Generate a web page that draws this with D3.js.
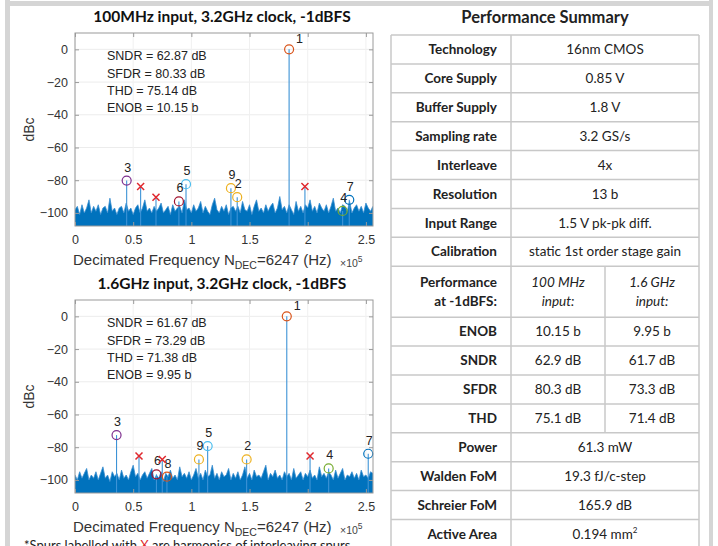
<!DOCTYPE html>
<html>
<head>
<meta charset="utf-8">
<script src="https://cdn.jsdelivr.net/npm/d3@7"></script>
<style>
  body { margin: 0; background: #fff; }
  .mat text { font-family: "Liberation Sans", Arial, sans-serif; }
  .tbl text { font-family: Lato, "Open Sans", sans-serif; fill: #222; }
</style>
</head>
<body>
<svg id="chart" width="718" height="546"></svg>
<script>
var svg = d3.select("#chart");

// ---- data ----
var titles = ["100MHz input, 3.2GHz clock, -1dBFS", "1.6GHz input, 3.2GHz clock, -1dBFS"];
var statsTop = ["SNDR = 62.87 dB", "SFDR = 80.33 dB", "THD = 75.14 dB", "ENOB = 10.15 b"];
var statsBot = ["SNDR = 61.67 dB", "SFDR = 73.29 dB", "THD = 71.38 dB", "ENOB = 9.95 b"];
var yTicks = [0, -20, -40, -60, -80, -100];
var xTicks = [0, 0.5, 1, 1.5, 2, 2.5];
var fMax = 2.561;      // x1e5 Hz, Nyquist of decimated spectrum
var noiseStep = 0.02;  // bin spacing of the noise arrays (x1e5 Hz)

// harmonics (number, frequency x1e5, level dBc)
var harmNumTop = [1, 2, 3, 4, 5, 6, 7, 9];
var harmFreqTop = [1.84, 1.394, 0.444, 2.30, 0.954, 0.893, 2.357, 1.34];
var harmDbTop = [0, -90.4, -80.2, -98.8, -82.4, -93, -92, -84.9];
var xSpurFreqTop = [0.564, 0.696, 1.976];
var xSpurDbTop = [-83.9, -90.4, -83.9];

var harmNumBot = [1, 2, 3, 4, 5, 6, 7, 8, 9];
var harmFreqBot = [1.82, 1.475, 0.357, 2.18, 1.14, 0.70, 2.52, 0.79, 1.065];
var harmDbBot = [0, -87.5, -72.6, -93, -79.3, -96.6, -84, -98, -87.5];
var xSpurFreqBot = [0.55, 0.75, 2.02];
var xSpurDbBot = [-85.4, -87.5, -85.4];

var noiseTop = [
  -98,-96,-101,-95,-100,-97,-92,-100,-96,-99,
  -95,-101,-97,-96,-100,-91,-99,-97,-101,-97,
  -96,-100,-94,-99,-97,-101,-97,-95,-100,-97,
  -92,-99,-97,-100,-96,-99,-97,-94,-100,-98,
  -96,-101,-95,-99,-97,-96,-100,-92,-98,-97,
  -100,-95,-99,-97,-93,-100,-96,-99,-101,-95,
  -91,-98,-100,-96,-99,-95,-101,-97,-96,-99,
  -96,-100,-93,-98,-99,-95,-101,-96,-92,-99,
  -97,-100,-95,-99,-96,-94,-100,-97,-90,-98,
  -96,-100,-95,-98,-101,-93,-99,-96,-100,-95,
  -97,-92,-99,-96,-100,-94,-97,-99,-95,-100,
  -96,-91,-99,-97,-100,-95,-96,-99,-93,-100,
  -97,-95,-99,-96,-100,-94,-97,-99,-96
];
var noiseBot = [
  -97,-100,-95,-99,-96,-93,-100,-97,-99,-95,
  -100,-96,-92,-99,-97,-101,-95,-98,-96,-100,
  -94,-99,-97,-100,-95,-91,-98,-96,-100,-97,
  -95,-99,-96,-93,-100,-97,-99,-95,-101,-96,
  -98,-94,-99,-97,-100,-92,-98,-96,-99,-95,
  -100,-97,-93,-99,-96,-100,-94,-98,-97,-91,
  -99,-96,-100,-95,-98,-97,-93,-100,-96,-99,
  -95,-100,-97,-92,-99,-96,-100,-94,-98,-97,
  -99,-95,-91,-100,-96,-98,-94,-99,-97,-100,
  -95,-98,-96,-100,-93,-99,-97,-95,-100,-96,
  -98,-94,-99,-97,-100,-92,-98,-96,-99,-95,
  -97,-100,-94,-99,-96,-93,-100,-97,-98,-95,
  -99,-96,-100,-94,-98,-97,-99,-95,-96
];

// table
var tableLabels = ["Technology", "Core Supply", "Buffer Supply", "Sampling rate", "Interleave",
  "Resolution", "Input Range", "Calibration", "Performance|at -1dBFS:", "ENOB", "SNDR", "SFDR",
  "THD", "Power", "Walden FoM", "Schreier FoM", "Active Area"];
var tableValues = [["16nm CMOS"], ["0.85 V"], ["1.8 V"], ["3.2 GS/s"], ["4x"], ["13 b"],
  ["1.5 V pk-pk diff."], ["static 1st order stage gain"], ["100 MHz|input:", "1.6 GHz|input:"],
  ["10.15 b", "9.95 b"], ["62.9 dB", "61.7 dB"], ["80.3 dB", "73.3 dB"], ["75.1 dB", "71.4 dB"],
  ["61.3 mW"], ["19.3 fJ/c-step"], ["165.9 dB"], ["0.194 mm^2"]];

// matlab color order, shifted so harmonic 1 is orange
var harmColor = d3.scaleOrdinal()
  .domain([1, 2, 3, 4, 5, 6, 7, 8, 9])
  .range(["#D95319", "#EDB120", "#7E2F8E", "#77AC30", "#4DBEEE", "#A2142F", "#0072BD", "#D95319", "#EDB120"]);

// ---- frame ----
svg.append("rect").attr("x", 5).attr("y", 1).attr("width", 708).attr("height", 5).attr("fill", "#d5d5d5");
svg.append("rect").attr("x", 5).attr("y", 0).attr("width", 5).attr("height", 546).attr("fill", "#d5d5d5");
svg.append("rect").attr("x", 709).attr("y", 0).attr("width", 4).attr("height", 546).attr("fill", "#d5d5d5");

// ---- spectra ----
function drawPanel(p) {
  var x = d3.scaleLinear().domain([0, fMax]).range([75, 373]);
  var y = d3.scaleLinear().domain([-108, 10]).range([p.bottom, p.bottom - 193]);
  var g = svg.append("g").attr("class", "mat");
  var x0 = x.range()[0], x1 = x.range()[1], yb = y.range()[0], yt = y.range()[1];

  g.append("text").attr("x", (x0 + x1) / 2 - 2).attr("y", yt - 11)
    .attr("text-anchor", "middle")
    .style("font-family", "Lato, sans-serif").style("font-weight", "bold").style("font-size", "15.5px")
    .attr("fill", "#111").text(p.title);

  // grid
  g.selectAll(".hg").data(yTicks).enter().append("line")
    .attr("x1", x0).attr("x2", x1).attr("y1", d => y(d)).attr("y2", d => y(d))
    .attr("stroke", "#ececec");
  g.selectAll(".vg").data(xTicks).enter().append("line")
    .attr("x1", d => x(d)).attr("x2", d => x(d)).attr("y1", yt).attr("y2", yb)
    .attr("stroke", "#f0f0f0");

  var clipId = "clip" + p.bottom;
  g.append("clipPath").attr("id", clipId).append("rect")
    .attr("x", x0).attr("y", yt).attr("width", x1 - x0).attr("height", yb - yt);
  var pg = g.append("g").attr("clip-path", "url(#" + clipId + ")");

  // noise floor
  var area = d3.area().x((d, i) => x(i * noiseStep)).y0(yb).y1(d => y(d));
  pg.append("path").datum(p.noise).attr("d", area).attr("fill", "#0072BD");
  pg.append("path").datum(p.noise)
    .attr("d", d3.line().x((d, i) => x(i * noiseStep)).y(d => y(d)))
    .attr("fill", "none").attr("stroke", "#3a8ed0").attr("stroke-width", 0.8);

  // stems for spurs
  var stems = p.harmFreq.map((f, i) => ({f: f, db: p.harmDb[i]}))
    .concat(p.xFreq.map((f, i) => ({f: f, db: p.xDb[i]})));
  pg.selectAll(".stem").data(stems).enter().append("line")
    .attr("x1", d => x(d.f)).attr("x2", d => x(d.f))
    .attr("y1", yb).attr("y2", d => y(d.db))
    .attr("stroke", "#3d93d6").attr("stroke-width", 1.1);

  // harmonic markers
  var harms = p.harmNum.map((k, i) => ({k: k, f: p.harmFreq[i], db: p.harmDb[i]}));
  g.selectAll(".hm").data(harms).enter().append("circle")
    .attr("cx", d => x(d.f)).attr("cy", d => y(d.db)).attr("r", 4.5)
    .attr("fill", "none").attr("stroke", d => harmColor(d.k)).attr("stroke-width", 1.2);
  g.selectAll(".hl").data(harms).enter().append("text")
    .attr("x", d => x(d.f) + (d.k === 1 ? 7 : 1))
    .attr("y", d => y(d.db) - (d.k === 1 ? 6 : 9))
    .attr("text-anchor", d => d.k === 1 ? "start" : "middle")
    .style("font-size", "12.5px").attr("fill", "#222").text(d => d.k);

  // red X spurs
  var xs = p.xFreq.map((f, i) => ({f: f, db: p.xDb[i]}));
  g.selectAll(".xm").data(xs).enter().append("path")
    .attr("transform", d => `translate(${x(d.f)},${y(d.db)})`)
    .attr("d", "M-3.5,-3.5L3.5,3.5M-3.5,3.5L3.5,-3.5")
    .attr("stroke", "#e0282e").attr("stroke-width", 1.5);

  // box
  g.append("rect").attr("x", x0).attr("y", yt).attr("width", x1 - x0).attr("height", yb - yt)
    .attr("fill", "none").attr("stroke", "#9a9a9a").attr("stroke-width", 1);

  var ya = g.append("g").attr("transform", `translate(${x0},0)`)
    .call(d3.axisLeft(y).tickValues(yTicks).tickSizeInner(-4).tickSizeOuter(0).tickPadding(7));
  var xa = g.append("g").attr("transform", `translate(0,${yb})`)
    .call(d3.axisBottom(x).tickValues(xTicks).tickFormat(d3.format("")).tickSizeInner(-4).tickSizeOuter(0).tickPadding(9));
  var ra = g.append("g").attr("transform", `translate(${x1},0)`)
    .call(d3.axisRight(y).tickValues(yTicks).tickFormat("").tickSizeInner(-4).tickSizeOuter(0));
  var ta = g.append("g").attr("transform", `translate(0,${yt})`)
    .call(d3.axisTop(x).tickValues(xTicks).tickFormat("").tickSizeInner(-4).tickSizeOuter(0));
  [ya, xa, ra, ta].forEach(a => {
    a.select(".domain").remove();
    a.selectAll("line").attr("stroke", "#9a9a9a");
    a.selectAll("text").style("font-family", "Liberation Sans, Arial, sans-serif")
      .style("font-size", "12.5px").attr("fill", "#333");
  });

  // stats text
  g.selectAll(".st").data(p.stats).enter().append("text")
    .attr("x", 107).attr("y", (d, i) => y(0) + 11 + i * 17.3)
    .style("font-size", "12.5px").attr("fill", "#222").text(d => d);

  // axis labels
  g.append("text").attr("transform", `translate(34,${(yt + yb) / 2}) rotate(-90)`)
    .attr("text-anchor", "middle").style("font-size", "14px").attr("fill", "#333").text("dBc");

  var xl = g.append("text").attr("x", 73).attr("y", yb + 39)
    .style("font-size", "15px").attr("fill", "#333");
  xl.append("tspan").text("Decimated Frequency N");
  xl.append("tspan").attr("dy", 4).style("font-size", "10.5px").text("DEC");
  xl.append("tspan").attr("dy", -4).text("=6247 (Hz)");

  var ex = g.append("text").attr("x", 340).attr("y", yb + 41)
    .style("font-size", "10.5px").attr("fill", "#444");
  ex.append("tspan").text("\u00d710");
  ex.append("tspan").attr("dy", -5).style("font-size", "8.5px").text("5");
}

drawPanel({title: titles[0], bottom: 226, noise: noiseTop, stats: statsTop,
  harmNum: harmNumTop, harmFreq: harmFreqTop, harmDb: harmDbTop, xFreq: xSpurFreqTop, xDb: xSpurDbTop});
drawPanel({title: titles[1], bottom: 493, noise: noiseBot, stats: statsBot,
  harmNum: harmNumBot, harmFreq: harmFreqBot, harmDb: harmDbBot, xFreq: xSpurFreqBot, xDb: xSpurDbBot});

// footnote (cut off at the bottom edge, as in the source)
var fn = svg.append("text").attr("x", 24).attr("y", 550)
  .style("font-family", "Lato, sans-serif").style("font-size", "13px").attr("fill", "#222");
fn.append("tspan").text("*Spurs labelled with ");
fn.append("tspan").attr("fill", "#e0282e").text("X");
fn.append("tspan").text(" are harmonics of interleaving spurs");

// ---- table ----
var tbl = svg.append("g").attr("class", "tbl");
var tx0 = 391, tx1 = 511, txm = 605, tx2 = 699, tTop = 35, rowH = 28.9, perfH = 51;

tbl.append("text").attr("x", 545).attr("y", 23).attr("text-anchor", "middle")
  .style("font-weight", "bold").style("font-size", "16.5px").text("Performance Summary");

var rows = [];
var yy = tTop;
tableLabels.forEach((lab, i) => {
  var h = lab.indexOf("|") >= 0 ? perfH : rowH;
  rows.push({label: lab, values: tableValues[i], y: yy, h: h});
  yy += h;
});
var tBottom = yy;

var lineColor = "#c8c8c8";
tbl.selectAll(".hl").data(rows.map(r => r.y).concat([tBottom])).enter().append("line")
  .attr("x1", tx0).attr("x2", tx2).attr("y1", d => d).attr("y2", d => d)
  .attr("stroke", lineColor).attr("stroke-width", 1.5);
[tx0, tx1, tx2].forEach(xv => {
  tbl.append("line").attr("x1", xv).attr("x2", xv).attr("y1", tTop).attr("y2", tBottom)
    .attr("stroke", lineColor).attr("stroke-width", 1.5);
});
rows.filter(r => r.values.length > 1).forEach(r => {
  tbl.append("line").attr("x1", txm).attr("x2", txm).attr("y1", r.y).attr("y2", r.y + r.h)
    .attr("stroke", lineColor).attr("stroke-width", 1.5);
});

function cellText(str, cx, cy, anchor, bold, italic) {
  var parts = str.split("|");
  parts.forEach((s, j) => {
    var t = tbl.append("text").attr("x", cx)
      .attr("y", cy + (j - (parts.length - 1) / 2) * 19)
      .attr("dy", "0.35em").attr("text-anchor", anchor)
      .style("font-size", "13.5px")
      .style("font-weight", bold ? "bold" : "normal")
      .style("font-style", italic ? "italic" : "normal");
    var sup = s.split("^");
    t.append("tspan").text(sup[0]);
    if (sup.length > 1) {
      t.append("tspan").attr("dy", -6).style("font-size", "8px").text(sup[1]);
    }
  });
}

rows.forEach(r => {
  var cy = r.y + r.h / 2;
  cellText(r.label, tx1 - 14, cy, "end", true, false);
  var italic = r.label.indexOf("|") >= 0;
  if (r.values.length === 1) {
    cellText(r.values[0], (tx1 + tx2) / 2, cy, "middle", false, false);
  } else {
    cellText(r.values[0], (tx1 + txm) / 2, cy, "middle", false, italic);
    cellText(r.values[1], (txm + tx2) / 2, cy, "middle", false, italic);
  }
});
</script>
</body>
</html>
